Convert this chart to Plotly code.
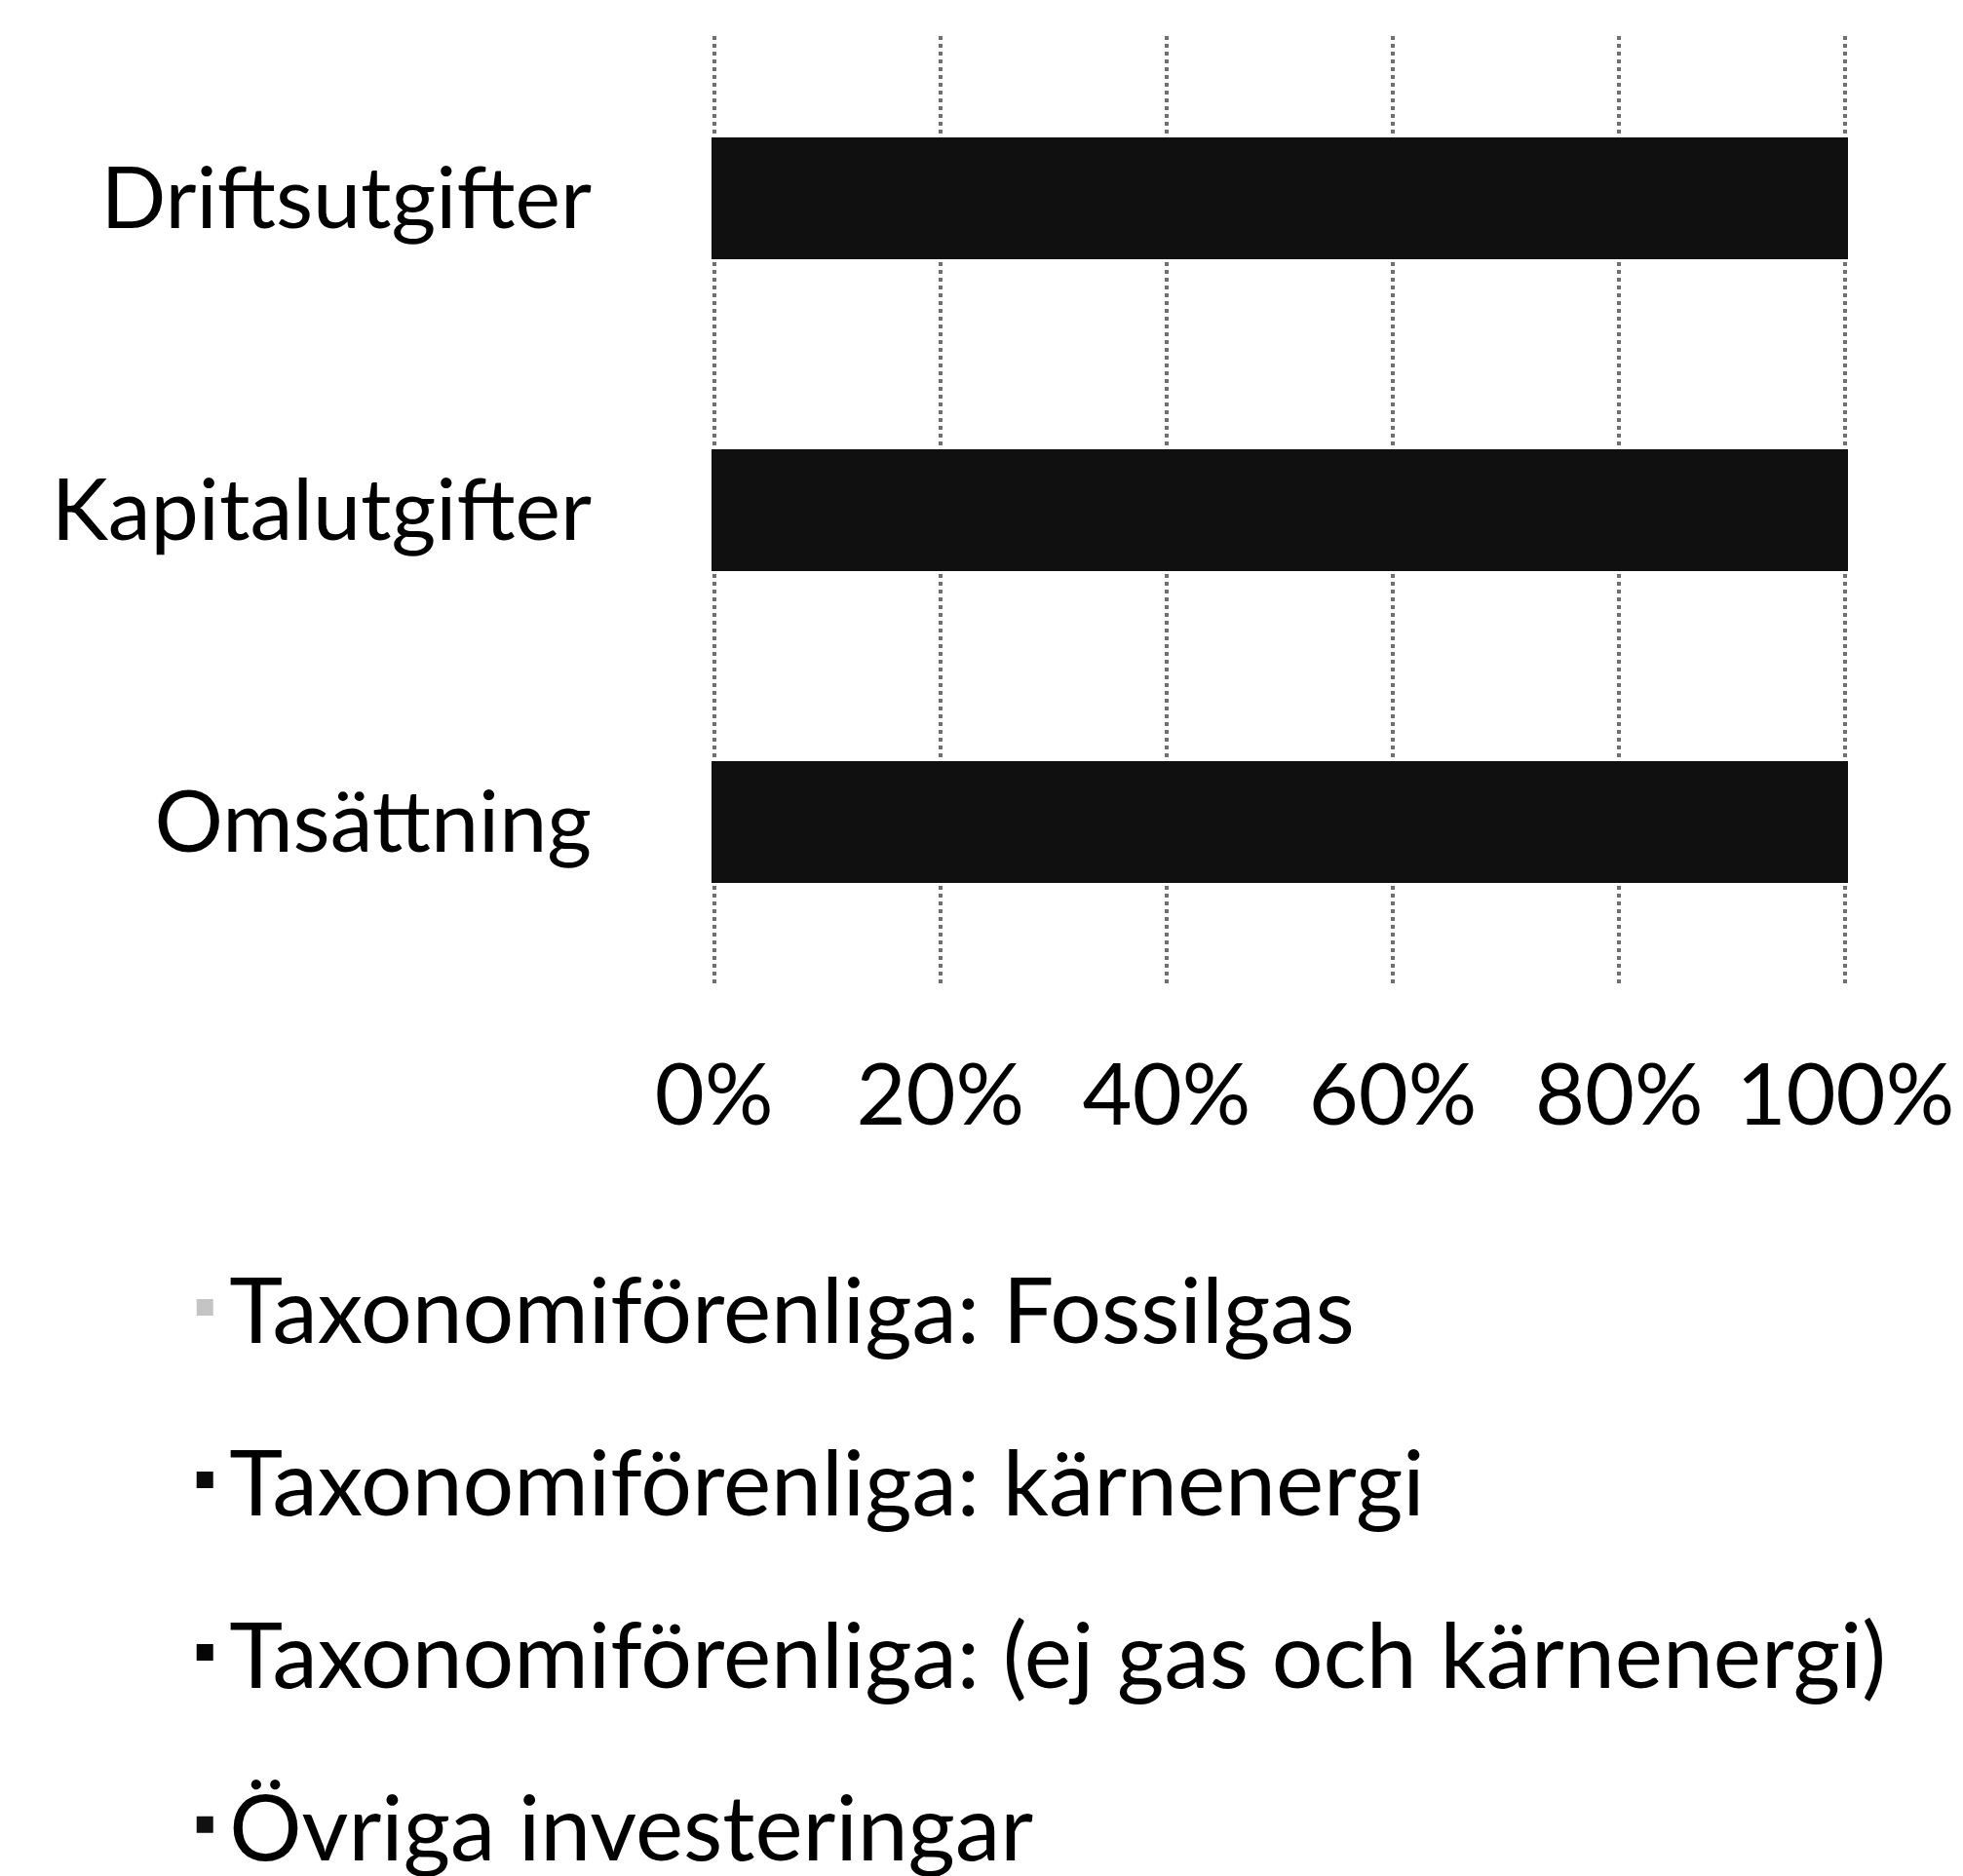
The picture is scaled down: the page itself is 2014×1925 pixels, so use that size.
import plotly.graph_objects as go

categories = ["Omsättning", "Kapitalutgifter", "Driftsutgifter"]
series_names = [
    "Taxonomiförenliga: Fossilgas",
    "Taxonomiförenliga: kärnenergi",
    "Taxonomiförenliga: (ej gas och kärnenergi)",
    "Övriga investeringar",
]
fossilgas = [0, 0, 0]
karnenergi = [0, 0, 0]
ej_gas_karnenergi = [0, 0, 0]
ovriga = [100, 100, 100]
tick_values = [0, 20, 40, 60, 80, 100]
tick_labels = ["0%", "20%", "40%", "60%", "80%", "100%"]

colors = ["#c4c4c4", "#0a0a0a", "#050505", "#101010"]
values = [fossilgas, karnenergi, ej_gas_karnenergi, ovriga]

FONT = "Lato"

fig = go.Figure()
for name, vals, col in zip(series_names, values, colors):
    fig.add_trace(go.Bar(
        y=categories, x=vals, name=name, orientation="h",
        marker=dict(color=col, line=dict(width=6, color=col)),
        legendgroup=name, width=0.37,
    ))

fig.update_layout(
    width=2014, height=1925,
    barmode="stack",
    paper_bgcolor="white", plot_bgcolor="white",
    margin=dict(l=720, r=124, t=29, b=923, autoexpand=False),
    font=dict(family=FONT, size=88, color="#000000"),
    showlegend=True,
    legend=dict(
        xref="container", yref="container",
        x=0.088, y=0.342, xanchor="left", yanchor="top",
        traceorder="grouped", tracegroupgap=53,
        font=dict(family=FONT, size=93, color="#000000"),
        itemwidth=40, bgcolor="rgba(0,0,0,0)",
    ),
    xaxis=dict(
        range=[-0.4, 100.4], tickvals=tick_values, ticktext=tick_labels,
        showgrid=True, gridcolor="#707070", griddash="dot", gridwidth=4,
        zeroline=False, showline=False, ticks="",
        ticklabelstandoff=55,
        tickfont=dict(family=FONT, size=88, color="#000000"),
    ),
    yaxis=dict(
        categoryorder="array", categoryarray=categories,
        range=[-0.52, 2.52],
        showgrid=False, zeroline=False, showline=False, ticks="",
        ticklabelstandoff=120,
        tickfont=dict(family=FONT, size=88, color="#000000"),
    ),
)

fig.write_html("out.html")
